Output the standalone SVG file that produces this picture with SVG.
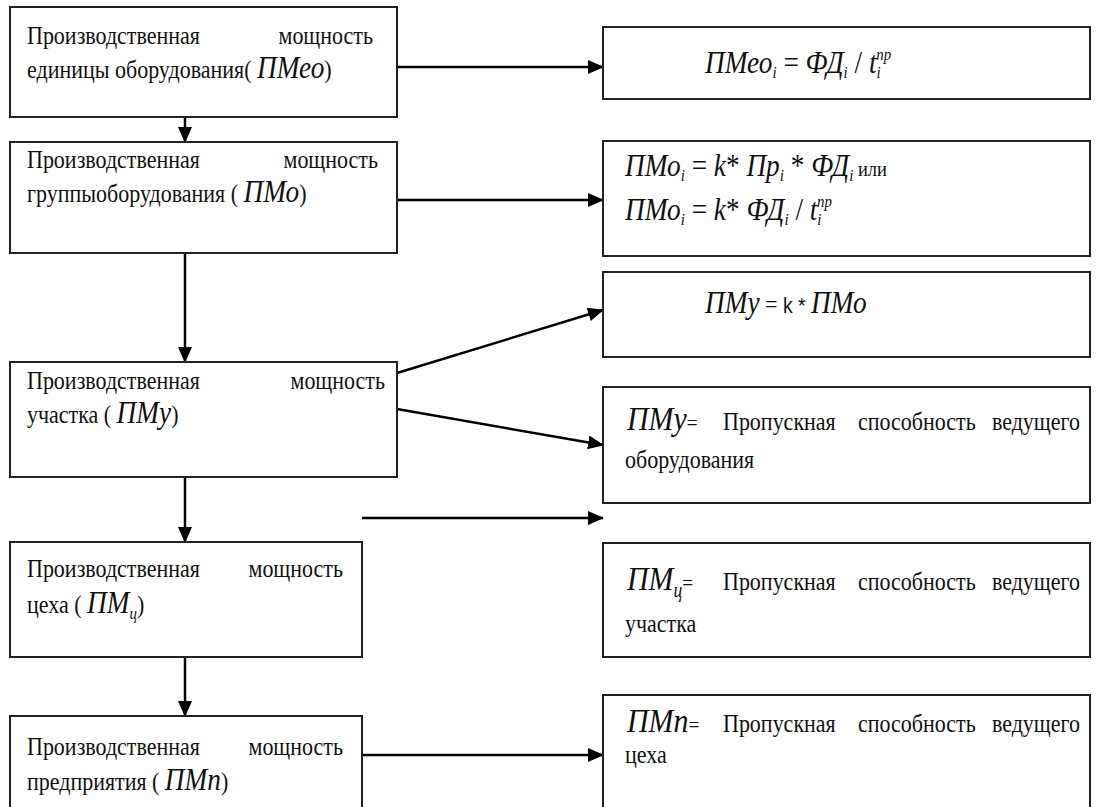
<svg xmlns="http://www.w3.org/2000/svg" width="1098" height="807" viewBox="0 0 1098 807">
<style>
.box{fill:#fff;stroke:#222;stroke-width:2}
.t{font-family:"Liberation Serif",Tinos,"Times New Roman","DejaVu Serif","Noto Serif",FreeSerif,serif;font-size:25px;fill:#111}
.f{font-style:italic;font-size:31px}
.n{font-style:normal}
.sub{font-size:17px}
.conn{stroke:#000;stroke-width:2.5;fill:none}
</style>
<defs>
<marker id="ah" markerWidth="16" markerHeight="14" refX="15" refY="7" orient="auto" markerUnits="userSpaceOnUse">
<path d="M0,0 L16,7 L0,14 Z" fill="#000"/>
</marker>
</defs>
<rect width="1098" height="807" fill="#fff"/>

<g id="connectors">
<line class="conn" x1="397" y1="67" x2="603" y2="67" marker-end="url(#ah)"/>
<line class="conn" x1="185" y1="117" x2="185" y2="142" marker-end="url(#ah)"/>
<line class="conn" x1="397" y1="200" x2="603" y2="200" marker-end="url(#ah)"/>
<line class="conn" x1="185" y1="253" x2="185" y2="362" marker-end="url(#ah)"/>
<line class="conn" x1="397" y1="373" x2="603" y2="310" marker-end="url(#ah)"/>
<line class="conn" x1="397" y1="409" x2="603" y2="445" marker-end="url(#ah)"/>
<line class="conn" x1="185" y1="477" x2="185" y2="542" marker-end="url(#ah)"/>
<line class="conn" x1="362" y1="518" x2="603" y2="518" marker-end="url(#ah)"/>
<line class="conn" x1="185" y1="657" x2="185" y2="716" marker-end="url(#ah)"/>
<line class="conn" x1="362" y1="755" x2="603" y2="755" marker-end="url(#ah)"/>
</g>

<g id="node-pmeo">
<rect class="box" x="10" y="7" width="387" height="110"/>
<text class="t" transform="translate(27 44) scale(.88 1)">Производственная</text>
<text class="t" text-anchor="end" transform="translate(373 44) scale(.88 1)">мощность</text>
<text class="t" transform="translate(27 78) scale(.88 1)">единицы оборудования( <tspan class="f">ПМео</tspan>)</text>
</g>

<g id="node-pmeo-formula">
<rect class="box" x="603" y="27" width="487" height="72"/>
<text class="t f" transform="translate(705 73) scale(.88 1)">ПМео<tspan class="sub" dy="5">i</tspan><tspan class="n" dy="-5"> = </tspan>ФД<tspan class="sub" dy="5">i</tspan><tspan class="n" dy="-5"> / </tspan>t<tspan class="sub" dy="5">i</tspan><tspan class="sub" dx="-5" dy="-18">пр</tspan></text>
</g>

<g id="node-pmo">
<rect class="box" x="10" y="142" width="387" height="111"/>
<text class="t" transform="translate(27 168) scale(.88 1)">Производственная</text>
<text class="t" text-anchor="end" transform="translate(378 168) scale(.88 1)">мощность</text>
<text class="t" transform="translate(27 202) scale(.88 1)">группыоборудования ( <tspan class="f">ПМо</tspan>)</text>
</g>

<g id="node-pmo-formula">
<rect class="box" x="603" y="141" width="487" height="115"/>
<text class="t f" transform="translate(625 176) scale(.88 1)">ПМо<tspan class="sub" dy="5">i</tspan><tspan class="n" dy="-5"> = </tspan>k<tspan class="n">* </tspan>Пр<tspan class="sub" dy="5">i</tspan><tspan class="n" dy="-5"> * </tspan>ФД<tspan class="sub" dy="5">i</tspan><tspan class="n" style="font-size:21px" dy="-5"> или</tspan></text>
<text class="t f" transform="translate(625 220) scale(.88 1)">ПМо<tspan class="sub" dy="5">i</tspan><tspan class="n" dy="-5"> = </tspan>k<tspan class="n">* </tspan>ФД<tspan class="sub" dy="5">i</tspan><tspan class="n" dy="-5"> / </tspan>t<tspan class="sub" dy="5">i</tspan><tspan class="sub" dx="-5" dy="-18">пр</tspan></text>
</g>

<g id="node-pmu-formula">
<rect class="box" x="603" y="272" width="487" height="85"/>
<text class="t" transform="translate(705 313) scale(.88 1)"><tspan class="f">ПМу</tspan> = <tspan style="font-family:'Liberation Sans',sans-serif;font-size:22px">k *</tspan>  <tspan class="f">ПМо</tspan></text>
</g>

<g id="node-pmu">
<rect class="box" x="10" y="362" width="387" height="115"/>
<text class="t" transform="translate(27 389) scale(.88 1)">Производственная</text>
<text class="t" text-anchor="end" transform="translate(385 389) scale(.88 1)">мощность</text>
<text class="t" transform="translate(27 423) scale(.88 1)">участка  ( <tspan class="f">ПМу</tspan>)</text>
</g>

<g id="node-pmu-lead">
<rect class="box" x="603" y="387" width="487" height="116"/>
<text class="t" transform="translate(627 430) scale(.88 1)"><tspan class="f" style="font-size:34px">ПМу</tspan><tspan style="font-size:22px">=</tspan></text>
<text class="t" transform="translate(723 430) scale(.88 1)">Пропускная</text>
<text class="t" transform="translate(858 430) scale(.88 1)">способность</text>
<text class="t" text-anchor="end" transform="translate(1080 430) scale(.88 1)">ведущего</text>
<text class="t" transform="translate(625 468) scale(.88 1)">оборудования</text>
</g>

<g id="node-pmc">
<rect class="box" x="10" y="542" width="352" height="115"/>
<text class="t" transform="translate(27 577) scale(.88 1)">Производственная</text>
<text class="t" text-anchor="end" transform="translate(343 577) scale(.88 1)">мощность</text>
<text class="t" transform="translate(27 613) scale(.88 1)">цеха ( <tspan class="f">ПМ</tspan><tspan class="f sub" dy="6">ц</tspan><tspan dy="-6">)</tspan></text>
</g>

<g id="node-pmc-lead">
<rect class="box" x="603" y="543" width="487" height="114"/>
<text class="t" transform="translate(627 590) scale(.88 1)"><tspan class="f" style="font-size:34px">ПМ</tspan><tspan class="f sub" style="font-size:20px" dy="7">ц</tspan><tspan style="font-size:22px" dy="-7">=</tspan></text>
<text class="t" transform="translate(723 590) scale(.88 1)">Пропускная</text>
<text class="t" transform="translate(858 590) scale(.88 1)">способность</text>
<text class="t" text-anchor="end" transform="translate(1080 590) scale(.88 1)">ведущего</text>
<text class="t" transform="translate(625 632) scale(.88 1)">участка</text>
</g>

<g id="node-pmp">
<rect class="box" x="10" y="716" width="352" height="104"/>
<text class="t" transform="translate(27 755) scale(.88 1)">Производственная</text>
<text class="t" text-anchor="end" transform="translate(343 755) scale(.88 1)">мощность</text>
<text class="t" transform="translate(27 790) scale(.88 1)">предприятия ( <tspan class="f">ПМп</tspan>)</text>
</g>

<g id="node-pmp-lead">
<rect class="box" x="603" y="695" width="487" height="125"/>
<text class="t" transform="translate(627 732) scale(.88 1)"><tspan class="f" style="font-size:34px">ПМп</tspan><tspan style="font-size:22px">=</tspan></text>
<text class="t" transform="translate(723 732) scale(.88 1)">Пропускная</text>
<text class="t" transform="translate(858 732) scale(.88 1)">способность</text>
<text class="t" text-anchor="end" transform="translate(1080 732) scale(.88 1)">ведущего</text>
<text class="t" transform="translate(625 763) scale(.88 1)">цеха</text>
</g>
</svg>
